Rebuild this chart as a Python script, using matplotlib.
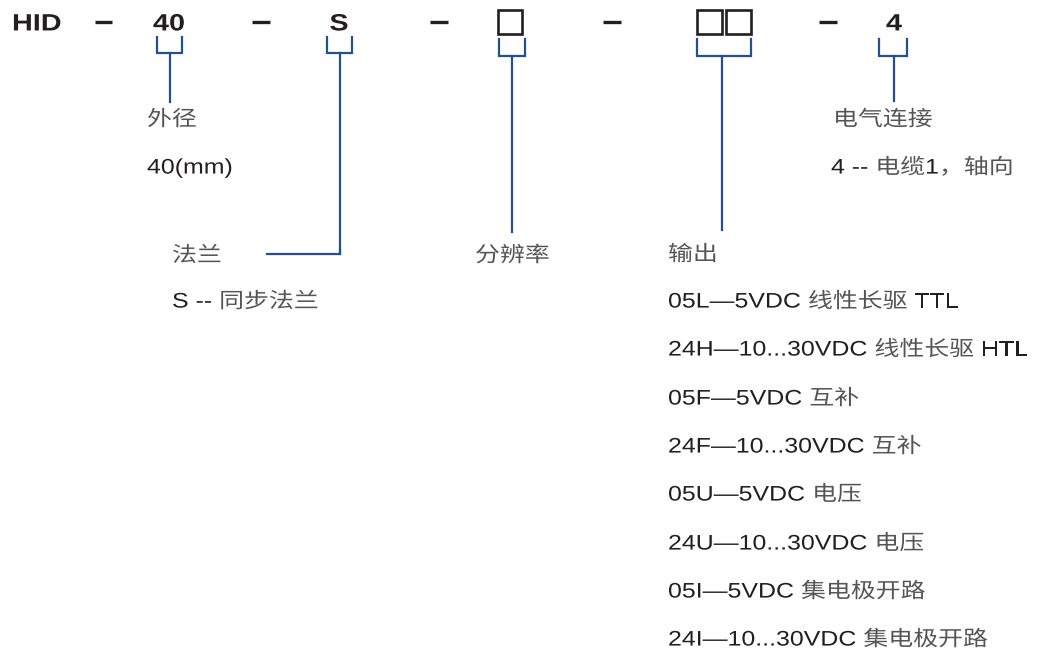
import matplotlib
matplotlib.use("Agg")
import matplotlib.pyplot as plt
from matplotlib.patches import Rectangle
from matplotlib.font_manager import FontProperties, findfont
from matplotlib.ft2font import FT2Font
from matplotlib.patheffects import AbstractPathEffect
from matplotlib.transforms import Affine2D

# ---------------- data (texts) ----------------
code_parts = ["HID", "40", "S", "4"]
diameter_title = "外径"
diameter_options = ["40(mm)"]
flange_title = "法兰"
flange_options = ["S -- 同步法兰"]
resolution_title = "分辨率"
output_title = "输出"
output_options = [
    "05L—5VDC 线性长驱 TTL",
    "24H—10...30VDC 线性长驱 HTL",
    "05F—5VDC 互补",
    "24F—10...30VDC 互补",
    "05U—5VDC 电压",
    "24U—10...30VDC 电压",
    "05I—5VDC 集电极开路",
    "24I—10...30VDC 集电极开路",
]
connection_title = "电气连接"
connection_options = ["4 -- 电缆1，轴向"]

# ---------------- styles ----------------
W, H, DPI = 1041, 652, 100
BLUE = "#24508f"
DARK = "#231f20"
CJK_COL = "#555555"
LATIN = FontProperties(family="Liberation Sans")
LATIN_B = FontProperties(family="Liberation Sans", weight="bold")
CJK = FontProperties(family="Noto Sans CJK SC", weight="light")
SIZE = 15.2       # label font size (pt)
SIZE_B = 17.0     # code row font size (pt)
SX = 1.18         # horizontal stretch of label text
SX_B = 1.22       # horizontal stretch of code row text

_font_cache = {}


def _ft(fp):
    path = findfont(fp)
    if path not in _font_cache:
        _font_cache[path] = FT2Font(path)
    return _font_cache[path]


def _has(fp, c):
    try:
        return _ft(fp).get_char_index(ord(c)) != 0
    except Exception:
        return False


def _adv(fp, c, size):
    f = _ft(fp)
    f.set_size(size, DPI)
    g = f.load_char(ord(c))
    return g.linearHoriAdvance / 65536.0


class HStretch(AbstractPathEffect):
    """Stretch text horizontally about a fixed display x."""

    def __init__(self, sx, x0):
        super().__init__()
        self.sx = sx
        self.x0 = x0

    def draw_path(self, renderer, gc, tpath, affine, rgbFace=None):
        t = affine + Affine2D().translate(-self.x0, 0).scale(self.sx, 1.0).translate(self.x0, 0)
        renderer.draw_path(gc, tpath, t, rgbFace)


def runs_of(s, bold, size):
    lat = LATIN_B if bold else LATIN
    runs = []  # [fp, text, start_adv]
    x = 0.0
    for c in s:
        if c == " " and runs:
            fp = runs[-1][0]
        else:
            fp = lat if _has(lat, c) else CJK
        a = _adv(fp if c != " " else lat, c, size)
        if runs and runs[-1][0] is fp:
            runs[-1][1] += c
        else:
            runs.append([fp, c, x])
        x += a
    return runs, x


def label(ax, x, yc, s, size=SIZE, bold=False, sx=SX, ha="left"):
    runs, w = runs_of(s, bold, size)
    if ha == "center":
        x = x - w * sx / 2
    base = yc + size * DPI / 72 * 0.716 / 2
    for fp, txt, start in runs:
        xr = x + start * sx
        col = CJK_COL if fp is CJK else DARK
        x0disp = ax.transData.transform((xr, base))[0]
        ax.text(xr, base, txt.rstrip(" ") or txt, fontproperties=fp, fontsize=size,
                color=col, ha="left", va="baseline",
                path_effects=[HStretch(sx, x0disp)])


fig = plt.figure(figsize=(W / DPI, H / DPI), dpi=DPI)
ax = fig.add_axes([0, 0, 1, 1])
ax.set_xlim(0, W)
ax.set_ylim(H, 0)
ax.axis("off")

# ---------------- top code row ----------------
label(ax, 12, 22, code_parts[0], size=SIZE_B, bold=True, sx=SX_B)
label(ax, 169, 22, code_parts[1], size=SIZE_B, bold=True, sx=SX_B, ha="center")
label(ax, 339, 22, code_parts[2], size=SIZE_B, bold=True, sx=SX_B, ha="center")
label(ax, 894, 22, code_parts[3], size=SIZE_B, bold=True, sx=SX_B, ha="center")

for x0, x1 in [(95, 112), (252, 270), (430, 448), (603, 621), (819, 837)]:
    ax.plot([x0, x1], [22, 22], color=DARK, lw=2.4, solid_capstyle="butt")

for x0, x1 in [(498, 522), (697, 722), (726, 751)]:
    ax.add_patch(Rectangle((x0, 10), x1 - x0, 24, fill=False,
                           edgecolor=DARK, lw=1.9))


# ---------------- brackets ----------------
def bracket(x0, x1, ytop, ybar, xs, yend):
    ax.plot([x0, x0, x1, x1], [ytop, ybar, ybar, ytop], color=BLUE, lw=1.6,
            solid_joinstyle="miter")
    ax.plot([xs, xs], [ybar, yend], color=BLUE, lw=1.6)


bracket(157, 182, 37, 53, 170, 102)
bracket(327, 352, 37, 53, 340, 254)
ax.plot([340, 340, 267], [250, 254, 254], color=BLUE, lw=1.6,
        solid_joinstyle="miter")
bracket(499, 525, 39, 56, 512, 232)
bracket(697, 751, 39, 56, 722, 230)
bracket(879, 907, 39, 56, 894, 101)

# ---------------- labels ----------------
label(ax, 147, 118, diameter_title)
label(ax, 147, 166, diameter_options[0])
label(ax, 172, 254, flange_title)
label(ax, 172, 300, flange_options[0])
label(ax, 475, 254, resolution_title)
label(ax, 833, 118, connection_title)
label(ax, 831, 166, connection_options[0])
label(ax, 668, 253, output_title)
ys = [300, 348, 397, 445, 493, 542, 590, 638]
for yy, s in zip(ys, output_options):
    label(ax, 668, yy, s)

fig.savefig("out.png", dpi=DPI, facecolor="white")
